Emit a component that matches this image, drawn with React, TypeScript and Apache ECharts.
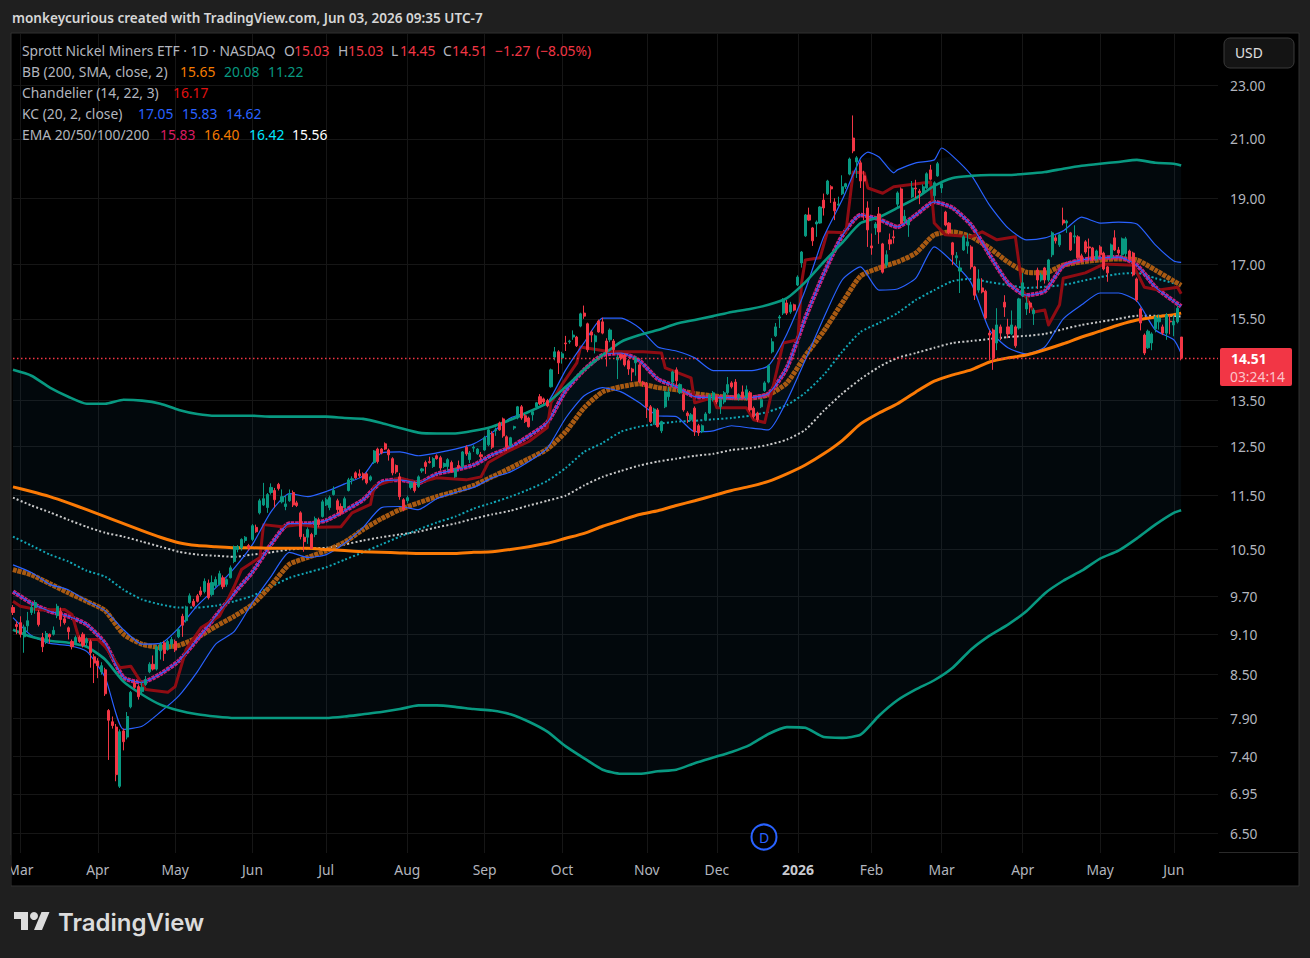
import React, { useEffect, useRef } from "react";
import * as echarts from "echarts";

type C = [number, number, number, number]; // open, close, low, high

const feb25: C[] = [[9.52,9.44,9.4,9.56],[9.25,9.22,9.1,9.3]];
const mar25: C[] = [[9.28,9.1,9.05,9.38],[9.06,9.21,8.82,9.25],[9.23,9.31,9.14,9.45],[9.44,9.52,9.4,9.6],[9.52,9.6,9.42,9.64],[9.44,9.25,9.22,9.48],[9.05,8.91,8.83,9.12],[8.98,9.11,8.95,9.15],[9.1,9.06,8.96,9.11],[9.1,9.16,9.08,9.22],[9.39,9.54,9.35,9.58],[9.46,9.33,9.22,9.52],[9.34,9.28,9.25,9.38],[9.2,9.14,9.02,9.22],[8.99,8.91,8.87,9.02],[8.97,9.05,8.95,9.08],[9.05,8.99,8.97,9.08],[9.1,8.93,8.9,9.13],[8.97,9.03,8.92,9.05],[8.99,8.82,8.6,9.02],[8.76,8.67,8.38,8.8]];
const apr25: C[] = [[8.7,8.63,8.45,8.74],[8.54,8.63,8.5,8.68],[8.57,8.23,8.2,8.6],[8.0,7.87,7.36,8.02],[7.85,7.8,7.76,7.92],[7.78,7.18,7.1,7.82],[7.04,7.72,7.02,7.75],[7.73,7.59,7.48,7.76],[7.65,7.92,7.62,7.98],[8.05,8.25,8.03,8.27],[8.38,8.32,8.3,8.42],[8.33,8.19,8.15,8.36],[8.26,8.32,8.23,8.4],[8.36,8.43,8.34,8.48],[8.54,8.65,8.52,8.68],[8.65,8.58,8.56,8.78],[8.58,8.91,8.56,8.93],[8.85,8.95,8.72,8.98],[8.97,8.81,8.7,9.0],[8.87,8.99,8.85,9.02],[8.95,9.02,8.88,9.06]];
const may25: C[] = [[8.99,8.86,8.83,9.02],[9.06,9.17,9.04,9.2],[9.38,9.24,9.06,9.42],[9.31,9.52,9.28,9.55],[9.6,9.71,9.58,9.75],[9.62,9.55,9.53,9.66],[9.71,9.62,9.6,9.74],[9.79,9.73,9.7,9.86],[9.78,9.95,9.75,10.0],[9.92,9.68,9.65,9.98],[9.73,9.93,9.7,10.05],[9.88,9.98,9.85,10.03],[9.9,10.08,9.88,10.13],[10.01,9.86,9.82,10.05],[9.9,9.98,9.86,10.0],[10.01,10.18,10.0,10.22],[10.29,10.55,10.26,10.57],[10.5,10.55,10.45,10.58],[10.53,10.68,10.48,10.7],[10.66,10.72,10.62,10.74],[10.57,10.53,10.48,10.6]];
const jun25: C[] = [[10.68,10.93,10.65,10.96],[10.9,10.82,10.8,10.95],[11.17,11.4,11.14,11.44],[11.32,11.44,11.3,11.75],[11.27,11.52,11.17,11.55],[11.56,11.66,11.52,11.74],[11.6,11.42,11.27,11.65],[11.72,11.64,11.6,11.75],[11.38,11.48,11.35,11.62],[11.29,11.34,11.22,11.5],[11.4,11.52,11.38,11.62],[11.56,11.32,11.28,11.6],[11.36,11.31,11.28,11.4],[11.17,10.73,10.68,11.2],[10.72,10.64,10.46,10.78],[10.72,10.86,10.6,10.9],[10.77,10.52,10.5,10.8],[10.77,11.06,10.72,11.1],[11.04,10.95,10.9,11.08],[11.1,11.38,11.08,11.42]];
const jul25: C[] = [[11.32,11.42,11.3,11.46],[11.27,11.46,11.22,11.5],[11.52,11.6,11.5,11.68],[11.4,11.23,11.15,11.44],[11.29,11.17,11.12,11.35],[11.27,11.44,11.25,11.48],[11.6,11.81,11.58,11.85],[11.81,11.83,11.72,11.88],[11.95,11.85,11.83,11.98],[11.93,11.89,11.85,12.02],[11.93,11.83,11.8,11.96],[11.93,11.75,11.72,11.96],[11.81,11.87,11.78,11.9],[12.16,12.4,12.13,12.42],[12.44,12.18,12.14,12.47],[12.44,12.36,12.33,12.46],[12.55,12.44,12.42,12.58],[12.42,12.32,12.2,12.45],[12.24,11.95,11.9,12.27],[12.1,11.97,11.93,12.12],[11.87,11.48,11.42,11.95],[11.42,11.23,11.2,11.45]];
const aug25: C[] = [[11.4,11.46,11.35,11.5],[11.66,11.75,11.62,11.78],[11.75,11.6,11.56,11.78],[11.68,11.87,11.65,11.9],[11.99,12.03,11.95,12.05],[12.16,12.08,11.93,12.2],[12.18,12.16,12.14,12.28],[12.08,12.24,12.05,12.27],[12.3,12.24,12.22,12.33],[12.26,12.05,12.0,12.3],[12.08,12.14,12.05,12.16],[12.08,12.22,12.0,12.25],[12.16,11.97,11.95,12.2],[11.87,12.03,11.85,12.05],[12.1,12.05,12.03,12.2],[12.08,12.38,12.05,12.4],[12.48,12.34,12.3,12.52],[12.22,12.36,12.15,12.4],[12.46,12.48,12.38,12.52],[12.34,12.44,12.32,12.46],[12.32,12.28,12.22,12.38]];
const sep25: C[] = [[12.42,12.68,12.4,12.72],[12.53,12.85,12.5,12.9],[12.77,12.48,12.44,12.82],[12.83,12.85,12.72,12.9],[13.0,12.85,12.83,13.03],[13.09,12.72,12.68,13.12],[12.7,12.48,12.4,12.73],[12.51,12.68,12.48,12.7],[12.89,12.92,12.85,12.94],[13.11,13.36,13.08,13.38],[13.36,13.11,13.07,13.4],[13.16,13.03,13.0,13.2],[13.11,12.92,12.9,13.14],[13.18,13.25,13.05,13.28],[13.36,13.45,13.33,13.47],[13.59,13.43,13.4,13.65],[13.54,13.47,13.42,13.57],[13.5,13.38,13.35,13.54],[13.82,14.22,13.8,14.25],[14.53,14.66,14.45,14.78],[14.66,14.39,14.12,14.7]];
const oct25: C[] = [[14.51,14.61,14.37,14.66],[14.88,14.86,14.68,15.06],[14.91,14.93,14.86,14.96],[15.03,15.08,14.96,15.2],[15.03,14.81,14.78,15.06],[15.31,15.63,15.28,15.66],[15.65,15.57,15.5,15.85],[15.37,14.71,14.65,15.4],[15.16,15.08,14.9,15.2],[14.91,15.06,14.62,15.1],[15.44,15.16,15.14,15.48],[15.42,15.13,15.1,15.53],[14.93,14.66,14.3,15.0],[14.96,15.21,14.9,15.25],[14.93,14.71,14.58,14.98],[14.46,14.53,14.0,14.58],[14.58,14.51,14.45,14.62],[14.58,14.34,14.3,14.62],[14.44,14.24,14.1,14.48],[14.24,14.17,13.95,14.27],[14.39,14.51,14.08,14.55],[14.34,13.93,13.9,14.37],[13.93,13.87,13.82,13.96]];
const nov25: C[] = [[13.89,13.36,13.11,13.93],[13.36,13.03,13.0,13.4],[13.0,13.31,12.96,13.34],[13.29,12.92,12.9,13.33],[12.83,13.03,12.78,13.05],[13.36,13.7,13.33,13.73],[13.59,13.7,13.5,13.8],[13.93,14.17,13.8,14.2],[14.22,13.96,13.85,14.28],[13.68,13.87,13.65,13.9],[13.64,13.29,13.25,13.67],[13.22,13.16,13.0,13.26],[13.07,13.18,13.04,13.22],[13.33,12.81,12.72,13.37],[12.94,12.79,12.72,12.98],[12.81,12.94,12.78,12.97],[13.07,13.2,13.04,13.24],[13.22,13.63,13.2,13.66],[13.52,13.68,13.48,13.72]];
const dec25: C[] = [[13.57,13.47,13.42,13.6],[13.36,13.52,13.2,13.55],[13.47,13.68,13.42,13.72],[13.68,13.87,13.64,14.05],[13.91,13.82,13.78,13.95],[13.93,13.57,13.54,14.0],[13.57,13.64,13.5,13.67],[13.7,13.57,13.54,13.85],[13.57,13.75,13.5,13.85],[13.68,13.29,13.25,13.72],[13.33,13.14,13.1,13.37],[13.22,13.07,13.02,13.25],[13.36,13.52,13.33,13.55],[13.73,13.91,13.7,13.95],[13.93,14.32,13.9,14.35],[14.66,14.91,14.62,15.0],[15.06,15.29,15.03,15.39],[15.52,15.55,15.26,15.6],[15.65,16.0,15.6,16.05],[15.92,15.65,15.6,16.0],[15.68,15.87,15.63,15.95],[15.87,15.73,15.7,15.9]];
const jan26: C[] = [[16.41,16.63,16.38,16.68],[17.03,17.35,16.9,17.38],[17.83,18.47,17.8,18.5],[18.47,18.31,18.28,18.7],[18.07,17.68,17.53,18.1],[18.19,18.25,17.8,18.3],[18.22,18.72,18.2,18.75],[18.94,18.69,18.45,19.15],[19.14,19.56,19.1,19.6],[19.37,19.3,18.85,19.42],[18.88,18.6,18.31,19.0],[18.78,18.81,18.75,19.05],[19.14,19.37,19.1,19.75],[19.37,19.47,19.3,19.5],[19.79,20.3,19.75,20.35],[21.03,20.58,20.5,21.85],[20.2,20.34,19.66,20.4],[20.17,19.56,19.33,20.25],[19.73,19.56,18.31,19.9],[18.69,18.01,17.5,18.9]];
const feb26: C[] = [[17.53,17.47,17.27,17.9],[18.07,18.19,17.86,18.25],[18.5,17.95,17.59,18.72],[17.59,16.77,16.73,17.62],[16.97,17.27,16.9,17.4],[17.71,17.59,17.41,17.9],[17.8,17.77,17.6,18.0],[18.81,19.17,18.7,19.22],[19.3,18.22,18.18,19.35],[18.28,18.43,18.2,18.63],[18.16,18.31,17.8,18.35],[19.04,19.33,19.0,19.56],[19.33,19.3,19.0,19.6],[19.23,19.17,18.81,19.3],[19.2,19.37,19.15,19.45],[19.33,19.8,19.3,19.85],[19.93,19.62,19.58,20.1],[19.08,19.5,18.9,19.55],[19.73,20.14,19.7,20.2]];
const mar26: C[] = [[19.33,19.47,19.17,19.5],[18.56,18.16,18.12,18.6],[18.22,17.92,17.88,18.25],[17.62,17.27,16.97,17.65],[17.18,17.24,17.0,17.35],[16.8,16.89,16.19,17.1],[17.41,17.8,17.38,17.85],[17.53,17.65,17.3,17.9],[17.5,16.92,16.85,17.55],[16.92,16.13,16.0,16.95],[16.27,16.58,16.2,16.85],[16.33,16.22,16.18,16.6],[16.24,15.52,15.48,16.28],[15.13,15.08,14.46,15.2],[15.21,14.51,14.22,15.25],[14.88,15.34,14.7,15.78],[15.29,15.13,14.95,15.35],[15.94,15.81,15.55,16.13],[15.29,15.11,15.0,15.5],[15.11,15.34,15.08,15.72],[15.29,14.81,14.76,15.33],[15.26,16.03,15.22,16.06]];
const apr26: C[] = [[16.11,16.47,16.08,16.74],[15.76,15.92,15.6,16.1],[15.92,15.81,15.65,15.97],[15.63,15.73,15.34,15.78],[16.83,16.55,16.3,16.9],[16.55,16.69,16.5,16.75],[16.89,16.55,16.45,16.92],[16.55,17.12,16.5,17.15],[17.27,17.92,17.2,17.97],[17.77,17.68,17.6,17.85],[17.56,17.86,17.5,17.9],[18.31,18.22,18.15,18.7],[18.22,18.28,17.92,18.32],[17.92,17.41,17.38,17.95],[17.8,17.83,17.6,18.15],[17.8,17.18,17.15,17.85],[17.24,17.09,17.05,17.3],[17.65,17.35,17.3,17.7],[17.5,17.47,17.1,17.75],[17.47,17.12,17.08,17.5],[17.15,17.38,17.1,17.42]];
const may26: C[] = [[17.5,17.27,17.2,17.55],[17.32,16.86,16.82,17.36],[16.92,16.75,16.5,16.95],[17.2,17.56,17.15,17.6],[17.77,17.41,17.38,18.0],[17.41,17.32,17.25,17.5],[17.27,17.74,17.22,17.78],[17.3,17.74,17.2,17.8],[17.38,17.15,17.1,17.42],[17.32,16.69,16.65,17.36],[16.58,16.0,15.95,16.62],[15.76,15.39,15.2,15.8],[15.08,14.63,14.58,15.12],[14.76,15.18,14.73,15.22],[14.88,15.11,14.7,15.15],[15.24,15.55,15.15,15.6],[15.42,15.52,15.22,15.6],[15.29,15.13,15.08,15.35],[15.13,15.6,14.96,15.65],[15.44,15.42,15.1,15.6]];
const jun26: C[] = [[15.34,15.44,15.05,15.6],[15.42,15.78,15.38,15.85],[15.03,14.51,14.45,15.03]];

// Line readings, one every fifth session plus the last session.
const bbUpper = [14.22,14.08,13.8,13.59,13.43,13.43,13.52,13.5,13.43,13.29,13.2,13.16,13.16,13.16,13.14,13.14,13.14,13.14,13.11,13.09,13.0,12.89,12.79,12.77,12.77,12.83,12.92,13.07,13.25,13.45,13.82,14.22,14.58,14.91,15.08,15.21,15.37,15.47,15.57,15.68,15.76,15.87,16.05,16.49,17.06,17.62,18.22,18.4,18.69,19.0,19.4,19.66,19.73,19.76,19.76,19.8,19.86,19.97,20.07,20.14,20.2,20.27,20.17,20.14,20.08];
const bbLower = [9.17,9.06,9.0,8.97,8.91,8.72,8.4,8.22,8.08,8.0,7.95,7.92,7.9,7.9,7.9,7.9,7.9,7.9,7.92,7.95,7.98,8.02,8.07,8.07,8.05,8.02,8.0,7.95,7.85,7.72,7.53,7.38,7.24,7.19,7.19,7.22,7.24,7.32,7.39,7.46,7.55,7.69,7.78,7.77,7.65,7.64,7.68,7.93,8.14,8.29,8.42,8.6,8.87,9.08,9.25,9.46,9.75,9.96,10.13,10.34,10.48,10.7,10.95,11.17,11.22];
const bbBasis = [11.67,11.58,11.48,11.36,11.23,11.1,10.97,10.84,10.72,10.62,10.57,10.55,10.53,10.53,10.52,10.52,10.52,10.5,10.48,10.46,10.45,10.44,10.43,10.43,10.43,10.45,10.46,10.5,10.55,10.61,10.7,10.79,10.92,11.03,11.14,11.21,11.31,11.4,11.5,11.6,11.68,11.78,11.93,12.11,12.34,12.62,12.98,13.22,13.43,13.7,13.95,14.1,14.22,14.41,14.51,14.58,14.71,14.86,15.03,15.18,15.34,15.47,15.55,15.61,15.65];
const ema200 = [11.46,11.31,11.18,11.04,10.91,10.8,10.73,10.64,10.55,10.46,10.41,10.39,10.37,10.41,10.45,10.5,10.52,10.53,10.59,10.66,10.72,10.77,10.82,10.9,10.97,11.06,11.14,11.21,11.31,11.4,11.5,11.7,11.87,11.99,12.1,12.18,12.24,12.3,12.34,12.42,12.46,12.53,12.64,12.85,13.27,13.66,14.0,14.29,14.51,14.63,14.76,14.88,14.93,14.98,15.03,15.06,15.11,15.23,15.34,15.42,15.5,15.58,15.58,15.58,15.56];
const ema100 = [10.73,10.57,10.41,10.29,10.13,10.03,9.81,9.65,9.57,9.52,9.52,9.55,9.62,9.71,9.86,10.01,10.1,10.19,10.32,10.45,10.59,10.73,10.86,10.99,11.1,11.25,11.36,11.48,11.62,11.79,12.05,12.38,12.57,12.81,12.92,12.98,13.03,13.05,13.08,13.11,13.16,13.25,13.4,13.68,14.1,14.66,15.16,15.39,15.65,16.0,16.27,16.52,16.58,16.49,16.41,16.33,16.36,16.41,16.52,16.63,16.72,16.75,16.6,16.46,16.42];
const ema50 = [10.15,10.06,9.91,9.76,9.62,9.47,9.1,8.95,8.9,8.93,9.05,9.22,9.38,9.57,9.88,10.24,10.36,10.48,10.63,10.86,11.06,11.23,11.36,11.48,11.58,11.7,11.87,12.05,12.24,12.44,12.81,13.34,13.7,13.82,13.89,13.8,13.75,13.66,13.61,13.57,13.56,13.63,13.91,14.56,15.18,15.92,16.66,16.89,17.06,17.32,17.86,17.95,17.8,17.47,17.06,16.77,16.75,16.97,17.06,17.12,17.15,17.12,16.83,16.52,16.4];
const ema20 = [9.78,9.59,9.46,9.38,9.25,8.96,8.46,8.39,8.51,8.7,9.02,9.38,9.75,10.11,10.59,10.97,10.97,11.03,11.21,11.42,11.77,11.81,11.75,11.93,12.01,12.11,12.32,12.48,12.72,13.01,13.73,14.22,14.58,14.63,14.44,14.0,13.82,13.59,13.57,13.57,13.57,13.66,14.27,15.52,16.72,17.83,18.47,18.34,18.1,18.47,18.88,18.69,18.16,17.27,16.47,16.13,16.24,16.95,17.12,17.18,17.2,16.97,16.35,15.97,15.83];
const kcMiddle = ema20;
const kcUpper = [10.23,10.1,9.9,9.81,9.63,9.47,9.17,8.95,8.96,9.2,9.55,9.84,10.17,10.59,11.19,11.54,11.48,11.58,11.73,11.89,12.36,12.38,12.3,12.36,12.44,12.55,12.79,13.11,13.25,13.45,14.22,14.89,15.52,15.52,15.26,14.78,14.68,14.51,14.2,14.2,14.2,14.32,15.11,16.27,17.8,18.94,20.33,20.37,19.93,20.17,20.27,20.4,19.76,18.78,18.07,17.71,17.77,17.98,18.4,18.22,18.25,18.19,17.56,17.09,17.05];
const kcUpperPeakSessions = [232, 239, 252];
const kcUpperPeakValues = [20.54, 19.83, 20.68];
const kcLower = [9.36,9.08,8.96,8.93,8.84,8.46,7.75,7.79,7.98,8.2,8.54,8.95,9.14,9.6,10.03,10.45,10.36,10.41,10.61,10.9,11.27,11.29,11.23,11.44,11.56,11.66,11.85,11.97,12.18,12.46,13.11,13.61,13.8,13.7,13.45,13.16,13.14,12.81,12.83,12.94,12.89,12.85,13.5,14.46,15.52,16.55,16.92,16.27,16.3,16.6,17.5,17.06,16.47,15.21,14.76,14.61,14.78,15.5,15.87,16.19,16.19,15.97,15.21,14.96,14.62];

const chandelierSessions = [0,2,7,14,16,18,23,25,29,32,36,42,44,47,51,56,60,62,67,68,73,78,83,89,92,97,98,105,110,115,123,127,129,134,140,145,146,149,153,154,162,171,176,177,184,185,190,191,199,201,204,209,213,214,215,219,221,226,228,231,232,236,239,249,250,253,260,263,267,272,274,277,280,281,284,285,291,296,304,307,311,316,317];
const chandelierValues = [9.62,9.54,9.48,9.49,9.41,9.02,9.02,8.91,8.6,8.62,8.29,8.25,8.33,8.87,9.2,9.38,9.86,10.15,10.36,10.95,10.91,10.95,10.9,10.91,11.17,11.33,11.68,11.85,11.75,11.85,11.81,11.87,12.16,12.38,12.6,12.9,13.45,13.87,14.39,14.78,14.66,14.66,14.63,14.27,14.03,13.45,13.57,13.34,13.34,13.07,13.01,14.88,14.96,16.47,17.12,17.18,17.95,17.92,19.86,19.83,19.33,19.16,19.37,19.53,18.22,17.86,17.8,17.95,17.71,17.8,16.27,15.68,15.73,15.34,15.87,16.6,16.75,17.0,16.97,16.35,16.27,16.35,16.17];

const priceTicks = [23, 21, 19, 17, 15.5, 13.5, 12.5, 11.5, 10.5, 9.7, 9.1, 8.5, 7.9, 7.4, 6.95, 6.5];
const marketHolidays = ["2025-04-18","2025-05-26","2025-06-19","2025-07-04","2025-09-01","2025-11-27","2025-12-25","2026-01-01","2026-01-19","2026-02-16","2026-04-03","2026-05-25"];
const monthNames = ["Jan","Feb","Mar","Apr","May","Jun","Jul","Aug","Sep","Oct","Nov","Dec"];
const lastPrice = 14.51;

const candles: C[] = [...feb25,...mar25,...apr25,...may25,...jun25,...jul25,...aug25,...sep25,...oct25,...nov25,...dec25,...jan26,...feb26,...mar26,...apr26,...may26,...jun26];
const blankSessions = 10;

function sessionDates(count: number): string[] {
  const out: string[] = [];
  const d = new Date(Date.UTC(2025, 1, 27));
  while (out.length < count) {
    const s = d.toISOString().slice(0, 10);
    const wd = d.getUTCDay();
    if (wd !== 0 && wd !== 6 && !marketHolidays.includes(s)) out.push(s);
    d.setUTCDate(d.getUTCDate() + 1);
  }
  return out;
}
const categories = sessionDates(candles.length + blankSessions);
const isMonthStart = (i: number) => i > 0 && categories[i].slice(5, 7) !== categories[i - 1].slice(5, 7);
const knotSession = (j: number) => (j === 64 ? 317 : j * 5);
const onKnots = (vals: number[]) => vals.map((v, j) => [knotSession(j), v]);
const kcUpperLine = [...onKnots(kcUpper), ...kcUpperPeakSessions.map((s, i) => [s, kcUpperPeakValues[i]])].sort((a, b) => a[0] - b[0]);

const UP = "#089981", DOWN = "#f23645", BLUE = "#2962ff", TXT = "#b2b5be";
const FONT = "'Noto Sans', sans-serif";
const TEXT_SIZE = 13.85;

function bandSeries(upper: number[], lower: number[], fill: string) {
  return {
    type: "custom", z: 1, silent: true, clip: true,
    data: [[0, upper[0]]],
    encode: { x: 0, y: 1 },
    renderItem: (_p: any, api: any) => {
      const top = upper.map((v, j) => api.coord([knotSession(j), v]));
      const bottom = lower.map((v, j) => api.coord([knotSession(j), v])).reverse();
      return { type: "polygon", shape: { points: [...top, ...bottom] }, style: { fill }, silent: true };
    },
  };
}
function lineSeries(name: string, data: number[][], color: string, width: number, dash?: number[], smooth: number | boolean = 0.2, z = 2) {
  return {
    name, type: "line", data, symbol: "none", smooth, z, silent: true, connectNulls: true,
    lineStyle: { color, width, type: dash || "solid", cap: "butt", join: "round" },
  };
}
function label(x: number, y: number, text: string, fill: string, extra: any = {}) {
  return { type: "text", x, y: y - 1, z: 50, silent: true, style: { text, fill, font: `${TEXT_SIZE}px ${FONT}`, textVerticalAlign: "middle", ...extra } };
}

export default function App() {
  const ref = useRef<HTMLDivElement>(null);
  useEffect(() => {
    document.body.style.margin = "0";
    document.body.style.overflow = "hidden";
    const chart = echarts.init(ref.current!, undefined, { renderer: "svg" });
    const legend = [
      label(22, 51, "Sprott Nickel Miners ETF · 1D · NASDAQ", TXT),
      label(284, 51, "O", TXT), label(294, 51, "15.03", DOWN),
      label(338, 51, "H", TXT), label(348, 51, "15.03", DOWN),
      label(391, 51, "L", TXT), label(400, 51, "14.45", DOWN),
      label(443, 51, "C", TXT), label(452, 51, "14.51", DOWN),
      label(495, 51, "−1.27", DOWN), label(536, 51, "(−8.05%)", DOWN),
      label(22, 72, "BB (200, SMA, close, 2)", TXT), label(180, 72, "15.65", "#f57c00"), label(224, 72, "20.08", UP), label(268, 72, "11.22", UP),
      label(22, 93, "Chandelier (14, 22, 3)", TXT), label(173, 93, "16.17", "#e01010"),
      label(22, 114, "KC (20, 2, close)", TXT), label(138, 114, "17.05", BLUE), label(182, 114, "15.83", BLUE), label(226, 114, "14.62", BLUE),
      label(22, 135, "EMA 20/50/100/200", TXT), label(160, 135, "15.83", "#d81b60"), label(204, 135, "16.40", "#f57c00"), label(249, 135, "16.42", "#00e5ff"), label(292, 135, "15.56", "#ffffff"),
    ];
    chart.setOption({
      animation: false,
      backgroundColor: "#1f1f1f",
      textStyle: { fontFamily: FONT },
      grid: { left: 13, right: 92, top: 34, bottom: 105, containLabel: false },
      xAxis: {
        type: "category", boundaryGap: false, data: categories,
        axisLine: { show: false }, axisTick: { show: false },
        splitLine: { show: true, interval: (i: number) => isMonthStart(i), lineStyle: { color: "#161616", width: 1 } },
        axisLabel: {
          interval: (i: number) => isMonthStart(i), margin: 9, color: TXT, fontSize: TEXT_SIZE, fontFamily: FONT, hideOverlap: false,
          formatter: (v: string) => {
            const m = Number(v.slice(5, 7));
            return m === 1 ? `{y|${v.slice(0, 4)}}` : monthNames[m - 1];
          },
          rich: { y: { fontWeight: "bold", color: "#c8cad0", fontSize: 14, fontFamily: FONT } },
        },
      },
      yAxis: {
        type: "log", logBase: 10, min: 6.29, max: 25.07, position: "right",
        axisLine: { show: false },
        axisTick: { show: false, customValues: priceTicks },
        splitLine: { show: true, lineStyle: { color: "#161616", width: 1 } },
        axisLabel: { customValues: priceTicks, color: TXT, fontSize: TEXT_SIZE, margin: 12, padding: [0, 0, 2, 0], fontFamily: FONT, formatter: (v: number) => Number(v).toFixed(2) },
      },
      series: [
        bandSeries(bbUpper, bbLower, "rgba(33,150,243,0.05)"),
        bandSeries(kcUpper, kcLower, "rgba(33,150,243,0.05)"),
        lineSeries("EMA 200", onKnots(ema200), "#c8c8c8", 2, [2, 2.2]),
        lineSeries("EMA 100", onKnots(ema100), "#12a5b5", 2, [2, 2.2]),
        lineSeries("EMA 50", onKnots(ema50), "#a85a12", 5, [4, 0.8]),
        lineSeries("EMA 20", onKnots(ema20), "#c9207a", 4.5, [3.5, 0.8]),
        lineSeries("Chandelier", chandelierSessions.map((s, i) => [s, chandelierValues[i]]), "#8f0c13", 3, undefined, false),
        lineSeries("KC upper", kcUpperLine, BLUE, 1.2),
        lineSeries("KC middle", onKnots(kcMiddle), BLUE, 1.2),
        lineSeries("KC lower", onKnots(kcLower), BLUE, 1.2),
        lineSeries("BB upper", onKnots(bbUpper), UP, 2.6),
        lineSeries("BB lower", onKnots(bbLower), UP, 2.6),
        lineSeries("BB basis", onKnots(bbBasis), "#fb7a05", 3),
        {
          name: "Sprott Nickel Miners ETF", type: "candlestick", z: 3, barWidth: 2.6, silent: true,
          data: candles,
          itemStyle: { color: UP, color0: DOWN, borderColor: UP, borderColor0: DOWN, borderWidth: 1 },
          markLine: {
            silent: true, symbol: "none", label: { show: false }, animation: false,
            lineStyle: { color: DOWN, type: [1.5, 2.5], width: 1.3 },
            data: [{ yAxis: lastPrice }],
          },
        },
      ],
      graphic: [
        { type: "rect", z: -10, silent: true, shape: { x: 11, y: 33, width: 1288, height: 853 }, style: { fill: "#000000", stroke: "#303030", lineWidth: 1 } },
        { type: "rect", z: 40, silent: true, shape: { x: 0, y: 855, width: 11, height: 40 }, style: { fill: "#1f1f1f" } },
        { type: "line", z: -5, silent: true, shape: { x1: 1219, y1: 852.5, x2: 1298, y2: 852.5 }, style: { stroke: "#2a2a2a", lineWidth: 1 } },
        { type: "text", x: 12, y: 18, z: 50, silent: true, style: { text: "monkeycurious created with TradingView.com, Jun 03, 2026 09:35 UTC-7", fill: "#d6d6d6", font: `600 13.55px ${FONT}`, textVerticalAlign: "middle" } },
        ...legend,
        { type: "rect", z: 45, silent: true, shape: { x: 1224, y: 38, width: 70, height: 30, r: 6 }, style: { fill: "#141414", stroke: "#3a3a3a", lineWidth: 1 } },
        label(1235, 53, "USD", "#e0e0e0"),
        { type: "rect", z: 45, silent: true, shape: { x: 1220, y: 348, width: 72, height: 38, r: 2 }, style: { fill: DOWN } },
        label(1231, 359, "14.51", "#ffffff", { font: `bold ${TEXT_SIZE}px ${FONT}` }),
        label(1230, 377, "03:24:14", "#fbc4ca"),
        { type: "circle", z: 45, silent: true, shape: { cx: 764, cy: 837, r: 12.5 }, style: { fill: "#000000", stroke: BLUE, lineWidth: 2 } },
        label(764, 838, "D", BLUE, { font: `14px ${FONT}`, textAlign: "center" }),
        { type: "polygon", z: 45, silent: true, shape: { points: [[14, 912], [28, 912], [28, 930], [21, 930], [21, 919], [14, 919]] }, style: { fill: "#dcdcdc" } },
        { type: "circle", z: 45, silent: true, shape: { cx: 34, cy: 916, r: 4 }, style: { fill: "#dcdcdc" } },
        { type: "polygon", z: 45, silent: true, shape: { points: [[41.5, 912], [49.5, 912], [42, 930], [34, 930]] }, style: { fill: "#dcdcdc" } },
        { type: "text", x: 58, y: 922, z: 50, silent: true, style: { text: "TradingView", fill: "#dcdcdc", font: `600 24px Inter, sans-serif`, textVerticalAlign: "middle" } },
      ],
    });
    return () => chart.dispose();
  }, []);
  return <div ref={ref} style={{ position: "absolute", left: 0, top: 0, width: 1310, height: 958 }} />;
}
